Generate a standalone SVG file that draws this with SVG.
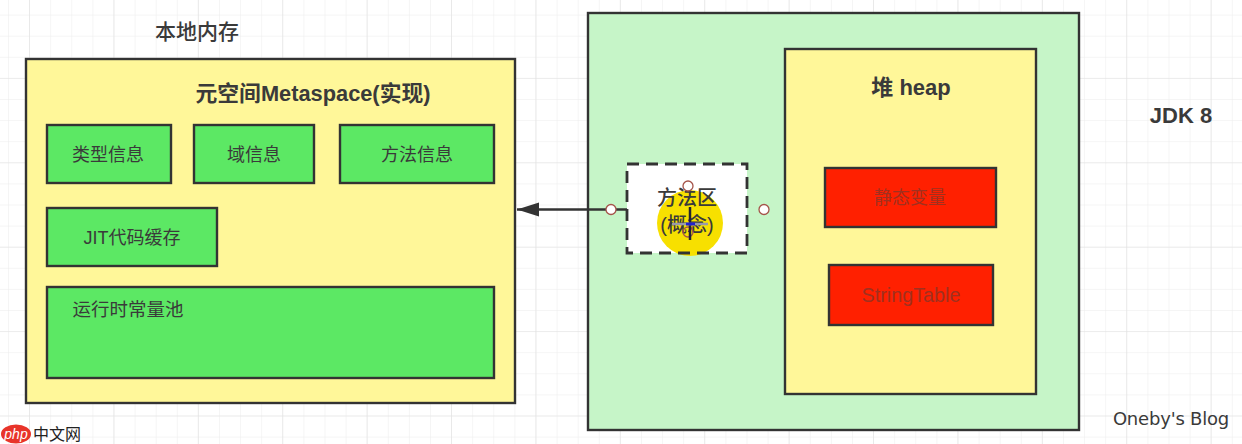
<svg xmlns="http://www.w3.org/2000/svg" width="1242" height="444" viewBox="0 0 1242 444">
<defs>
<pattern id="grid" x="8" y="-6.5" width="21.1" height="21.1" patternUnits="userSpaceOnUse"><path d="M0 0V21.1M0 0H21.1" fill="none" stroke="#ececec" stroke-width="1"/></pattern>
<pattern id="gridMajor" x="29" y="-6.5" width="84.4" height="84.4" patternUnits="userSpaceOnUse"><path d="M0 0V84.4M0 0H84.4" fill="none" stroke="#e2e2e2" stroke-width="1.2"/></pattern>
<marker id="arrow" markerUnits="userSpaceOnUse" markerWidth="24" markerHeight="16" refX="23" refY="8" orient="auto"><path d="M23 8L1 1V15Z" fill="#333"/></marker>
</defs>
<style>
text{font-family:"Liberation Sans","Noto Sans CJK SC",sans-serif;fill:#3a3a3a;text-anchor:middle}
.box{stroke:#333;stroke-width:2.4}
.y{fill:#fff799}.g{fill:#5ce864}.r{fill:#ff2000}
.lab{font-size:18px}.bold{font-size:21.8px;font-weight:bold}
text.dim{fill:#a0301f}
.h{fill:#fff;stroke:#a5544a;stroke-width:1.3}
</style>
<rect width="1242" height="444" fill="#fff"/>
<rect width="1242" height="444" fill="url(#grid)"/>
<rect width="1242" height="444" fill="url(#gridMajor)"/>
<g id="label-native"><text x="197" y="39" font-size="21" style="font-weight:500">本地内存</text></g>
<g id="metaspace"><rect class="box y" x="26" y="59" width="489" height="344"/><text class="bold" x="313" y="101">元空间Metaspace(实现)</text></g>
<g id="type-info"><rect class="box g" x="47" y="125" width="124" height="58"/><text class="lab" x="108" y="161">类型信息</text></g>
<g id="field-info"><rect class="box g" x="194" y="125" width="120" height="58"/><text class="lab" x="254" y="161">域信息</text></g>
<g id="method-info"><rect class="box g" x="340" y="125" width="154" height="58"/><text class="lab" x="417" y="161">方法信息</text></g>
<g id="jit-cache"><rect class="box g" x="47" y="208" width="170" height="58"/><text class="lab" x="132" y="244">JIT代码缓存</text></g>
<g id="constant-pool"><rect class="box g" x="47" y="287" width="447" height="91"/><text class="lab" x="128" y="316" style="font-size:18.500px">运行时常量池</text></g>
<g id="jdk8-area"><rect class="box" fill="#c6f5c8" x="588" y="13" width="491" height="417"/></g>
<g id="heap"><rect class="box y" x="785" y="49" width="251" height="345"/><text class="bold" x="911" y="95" style="font-size:22px">堆 heap</text></g>
<g id="static-vars"><rect class="box r" x="825" y="168" width="171" height="59"/><text class="lab dim" x="910" y="204">静态变量</text></g>
<g id="string-table"><rect class="box r" x="829" y="265" width="164" height="60"/><text class="lab dim" x="911" y="302" style="font-size:19.800px">StringTable</text></g>
<g id="connectors"><path d="M627 209.500H517" fill="none" stroke="#333" stroke-width="2.400" marker-end="url(#arrow)"/></g>
<g id="method-area"><rect x="627" y="164" width="120" height="89" fill="#fff"/>
<circle cx="690" cy="223" r="33" fill="#f7e000"/>
<rect x="627" y="164" width="120" height="89" fill="none" stroke="#333" stroke-width="2.800" stroke-dasharray="12 7"/>
<text x="687" y="205" font-size="20" style="font-weight:500">方法区</text><text x="687" y="232" font-size="20" style="font-weight:500">(概念)</text></g>
<g id="handles"><circle class="h" cx="611" cy="209.500" r="5"/><circle class="h" cx="764" cy="209.500" r="5"/><circle class="h" cx="688" cy="186" r="5"/><circle class="h" cx="688" cy="232" r="5" fill-opacity="0"/>
<path d="M690 207V240" stroke="#223" stroke-width="2.500"/><path d="M672 224H708" stroke="#99a" stroke-width="2.500"/><path d="M686 224H695" stroke="#22c" stroke-width="3"/></g>
<g id="label-jdk"><text x="1181" y="123" font-size="22" style="font-weight:bold">JDK 8</text></g>
<g id="watermark-blog"><text x="1171" y="425" font-size="18" style="font-family:'DejaVu Sans','Liberation Sans',sans-serif;letter-spacing:-.2px">Oneby's Blog</text></g>
<g id="watermark-php"><ellipse cx="16" cy="434" rx="15" ry="9.500" fill="#e8342a"/><text x="16" y="439" font-size="14" style="fill:#fff;font-style:italic">php</text><text x="57" y="440" font-size="16" style="fill:#222">中文网</text></g>
</svg>
